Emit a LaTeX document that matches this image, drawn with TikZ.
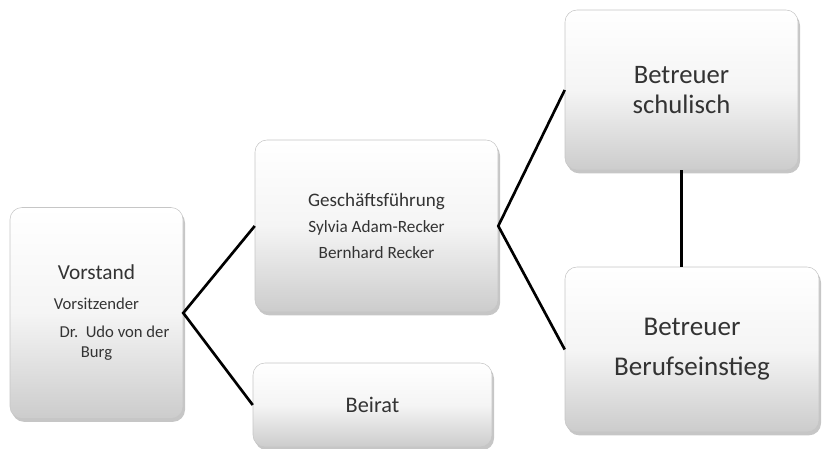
\documentclass[tikz,border=0pt]{standalone}
\usepackage{fontspec}
\setmainfont{Carlito}
\usetikzlibrary{shadows}
\definecolor{txtgray}{HTML}{333333}
\begin{document}
\begin{tikzpicture}[x=0.75pt,y=-0.75pt,
  orgbox/.style={rounded corners=9pt,draw=gray!45,line width=0.4pt,
    top color=white,bottom color=gray!40,middle color=gray!8,
    drop shadow={shadow xshift=1.5pt,shadow yshift=-2.5pt,opacity=0.45},
    text=txtgray,align=center,inner sep=0pt},
  link/.style={line width=2pt,black}]
\useasboundingbox (0,0) rectangle (822,449);
\node[orgbox,minimum width=129.75pt,minimum height=158.25pt,
  font=\fontsize{12.5}{15}\selectfont] (vorstand) at (96.5,313)
  {{\fontsize{16}{16}\selectfont Vorstand}\\[7.5pt]
   Vorsitzender\\[6pt]
   \hspace*{27pt}Dr.\ \ Udo von der\\ Burg};
\node[orgbox,minimum width=182.25pt,minimum height=129pt,
  font=\fontsize{12.9}{19.5}\selectfont] (gf) at (376.5,226)
  {{\fontsize{14.3}{16}\selectfont Geschäftsführung}\\
   Sylvia Adam-Recker\\ Bernhard Recker};
\node[orgbox,minimum width=179.25pt,minimum height=63pt,
  font=\fontsize{16.7}{20}\selectfont] (beirat) at (372.5,405) {Beirat};
\node[orgbox,minimum width=174.75pt,minimum height=120pt,
  font=\fontsize{20}{22.5}\selectfont] (schulisch) at (681.5,90)
  {Betreuer\\ schulisch};
\node[orgbox,minimum width=190.5pt,minimum height=123.75pt,
  font=\fontsize{20.3}{30}\selectfont] (beruf) at (692,349.5)
  {Betreuer\\ Berufseinstieg};
\draw[link] (gf.west) -- (vorstand.east) -- (beirat.west);
\draw[link] (schulisch.west) -- (gf.east) -- (beruf.west);
\draw[link] (schulisch.south) -- (schulisch.south |- beruf.north);
\end{tikzpicture}
\end{document}
